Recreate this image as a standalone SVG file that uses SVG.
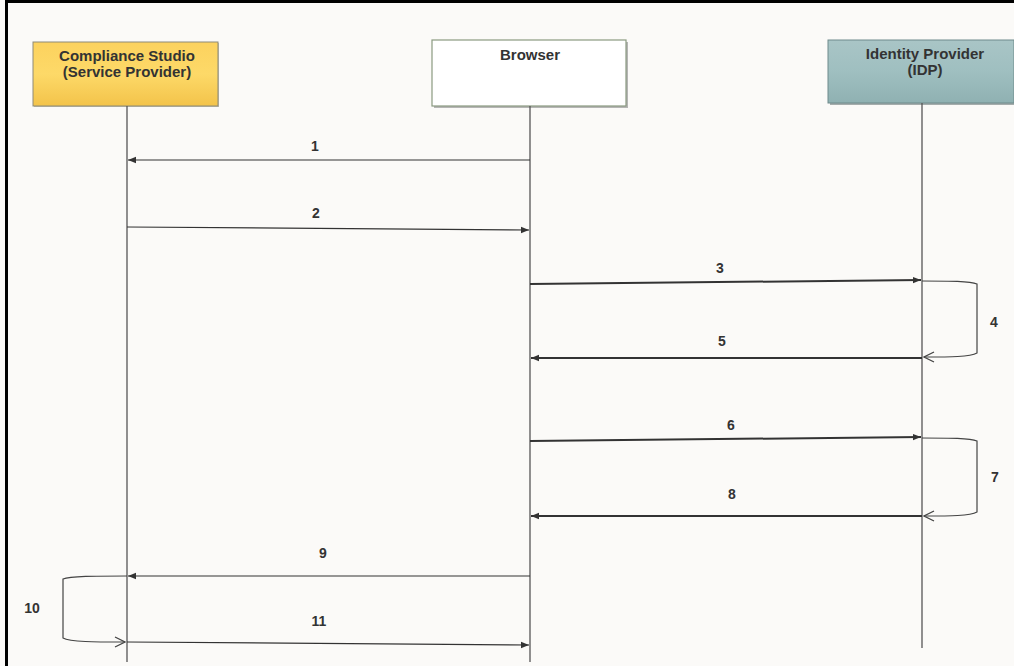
<svg xmlns="http://www.w3.org/2000/svg" width="1014" height="666" viewBox="0 0 1014 666">
<style>
.t{font-family:"Liberation Sans",Arial,sans-serif;font-weight:bold;font-size:15px;fill:#333;text-anchor:middle}
.n{font-family:"Liberation Sans",Arial,sans-serif;font-weight:bold;font-size:14px;fill:#333;text-anchor:middle}
.life{stroke:#555;stroke-width:1.3;fill:none}
.msg{stroke:#333;stroke-width:1.2;fill:none}
.msgb{stroke:#333;stroke-width:2;fill:none}
.loop{stroke:#444;stroke-width:1.2;fill:none}
</style>
<defs>
<linearGradient id="gy" x1="0" y1="0" x2="0" y2="1"><stop offset="0" stop-color="#fcd25e"/><stop offset="0.5" stop-color="#fdd968"/><stop offset="1" stop-color="#f3c34a"/></linearGradient>
<linearGradient id="gt" x1="0" y1="0" x2="0" y2="1"><stop offset="0" stop-color="#a9c5c6"/><stop offset="0.5" stop-color="#9fbfc0"/><stop offset="1" stop-color="#8fb1b2"/></linearGradient>
<marker id="a" viewBox="0 0 10 10" refX="10" refY="5" markerWidth="8" markerHeight="8" markerUnits="userSpaceOnUse" orient="auto"><path d="M0,1 L10,5 L0,9 Z" fill="#333"/></marker>
<marker id="o" viewBox="0 0 12 12" refX="11" refY="6" markerWidth="12" markerHeight="12" markerUnits="userSpaceOnUse" orient="auto"><path d="M1,1 L11,6 L1,11" fill="none" stroke="#444" stroke-width="1.3"/></marker>
</defs>
<rect x="0" y="0" width="1014" height="666" fill="#fbfaf8"/>
<path d="M6.5,666 V1.5 H1014" fill="none" stroke="#000" stroke-width="3"/>
<g id="node-cs">
<rect x="34" y="43" width="185" height="64" fill="#8a8a70" opacity="0.5"/>
<rect x="33" y="42" width="185" height="64" fill="url(#gy)" stroke="#8d8a78" stroke-width="1"/>
<text class="t" x="127" y="61">Compliance Studio</text>
<text class="t" x="127" y="77">(Service Provider)</text>
</g>
<g id="node-browser">
<rect x="434" y="42" width="194" height="66" fill="#707070" opacity="0.5"/>
<rect x="432" y="40" width="194" height="66" fill="#ffffff" stroke="#8a9a80" stroke-width="1.2"/>
<text class="t" x="530" y="60">Browser</text>
</g>
<g id="node-idp">
<rect x="830" y="42" width="186" height="63" fill="#506060" opacity="0.5"/>
<rect x="828" y="40" width="186" height="63" fill="url(#gt)" stroke="#6f8a8b" stroke-width="1"/>
<text class="t" x="925" y="59">Identity Provider</text>
<text class="t" x="925" y="75">(IDP)</text>
</g>
<g id="lifelines">
<line class="life" x1="127" y1="106" x2="127" y2="662"/>
<line class="life" x1="530" y1="106" x2="530" y2="662"/>
<line class="life" x1="922" y1="103" x2="922" y2="648"/>
</g>
<g id="connectors">
<line class="msg" x1="530" y1="160" x2="128" y2="160" marker-end="url(#a)"/>
<line class="msg" x1="127" y1="227" x2="529" y2="230" marker-end="url(#a)"/>
<line class="msgb" x1="530" y1="284" x2="921" y2="280" marker-end="url(#a)"/>
<path class="loop" d="M922,281 C950,281 970,281 977,284 V353 C970,357 950,357 924,357" marker-end="url(#o)"/>
<line class="msgb" x1="922" y1="358" x2="531" y2="358" marker-end="url(#a)"/>
<line class="msgb" x1="530" y1="441" x2="921" y2="437" marker-end="url(#a)"/>
<path class="loop" d="M922,438 C950,438 970,438 977,441 V512 C970,516 950,516 924,516" marker-end="url(#o)"/>
<line class="msgb" x1="922" y1="516" x2="531" y2="516" marker-end="url(#a)"/>
<line class="msg" x1="530" y1="576" x2="128" y2="576" marker-end="url(#a)"/>
<path class="loop" d="M127,576 C95,576 70,576 63,579 V638 C70,642 95,642 125,642" marker-end="url(#o)"/>
<line class="msg" x1="127" y1="642" x2="529" y2="645" marker-end="url(#a)"/>
</g>
<g id="labels">
<text class="n" x="315" y="151">1</text>
<text class="n" x="316" y="218">2</text>
<text class="n" x="720" y="273">3</text>
<text class="n" x="994" y="327">4</text>
<text class="n" x="722" y="346">5</text>
<text class="n" x="731" y="430">6</text>
<text class="n" x="995" y="482">7</text>
<text class="n" x="732" y="499">8</text>
<text class="n" x="323" y="558">9</text>
<text class="n" x="32" y="613">10</text>
<text class="n" x="319" y="626">11</text>
</g>
</svg>
